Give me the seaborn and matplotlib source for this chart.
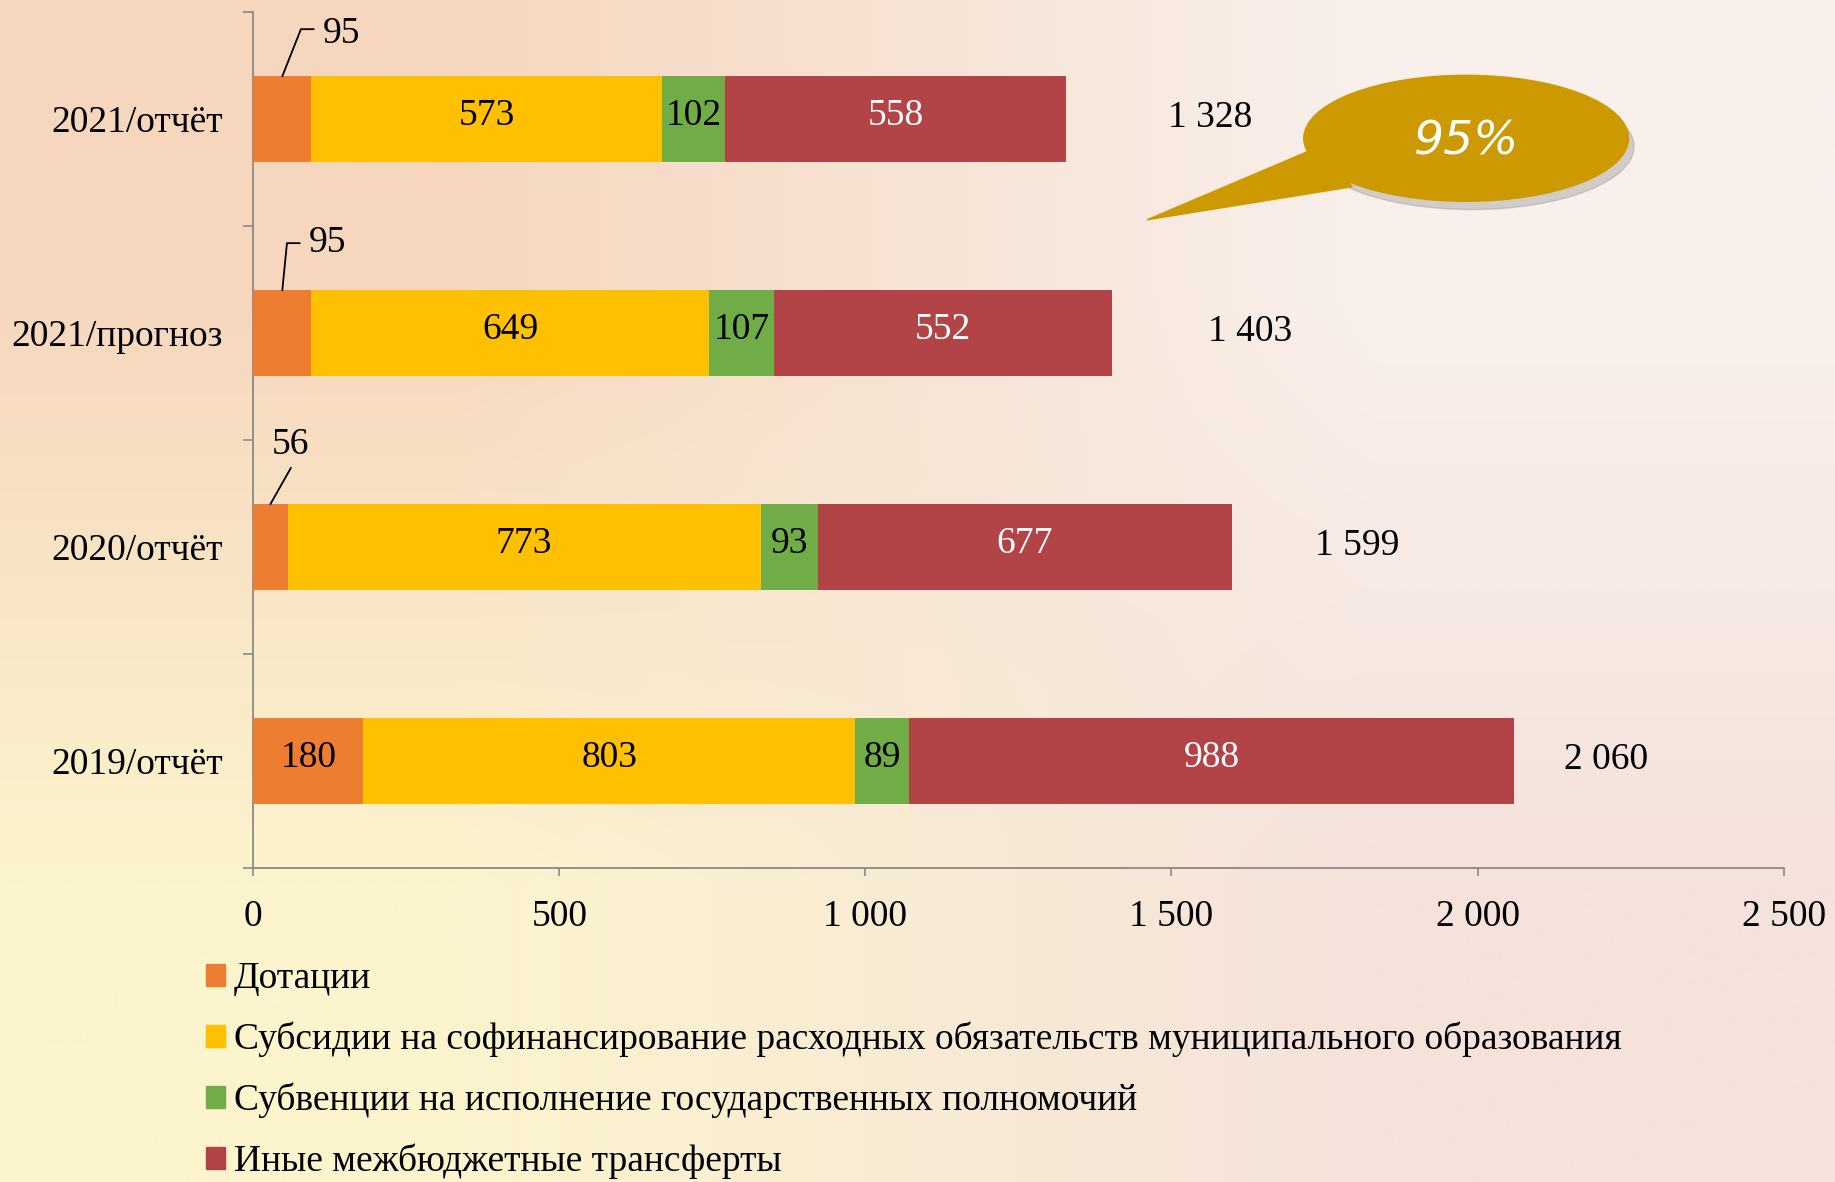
import numpy as np
import pandas as pd
import seaborn as sns
import matplotlib.pyplot as plt
from matplotlib.patches import Ellipse, Polygon, Patch
from matplotlib.ticker import FuncFormatter

categories = ["2021/отчёт", "2021/прогноз", "2020/отчёт", "2019/отчёт"]
series = ["Дотации",
          "Субсидии на софинансирование расходных обязательств муниципального образования",
          "Субвенции на исполнение государственных полномочий",
          "Иные межбюджетные трансферты"]
dotacii = [95, 95, 56, 180]
subsidii = [573, 649, 773, 803]
subvencii = [102, 107, 93, 89]
inye = [558, 552, 677, 988]
totals = [1328, 1403, 1599, 2060]
callout_text = "95%"

colors = ["#ED7D31", "#FFC000", "#70AD47", "#B24447"]
label_colors = ["black", "black", "black", "white"]

sns.set_theme(style="white")
plt.rcParams["font.family"] = ["Liberation Serif", "DejaVu Serif"]
plt.rcParams["text.color"] = "black"

df = pd.DataFrame({"cat": categories, series[0]: dotacii, series[1]: subsidii,
                   series[2]: subvencii, series[3]: inye})
cum = df[series].cumsum(axis=1)

fig = plt.figure(figsize=(18.35, 11.82), dpi=100)

# background gradient
bg = fig.add_axes([0, 0, 1, 1], zorder=-10)
corners = np.array([[[246, 215, 190], [249, 240, 236]],
                    [[252, 244, 205], [245, 226, 219]]]) / 255.0
bg.imshow(corners, aspect="auto", interpolation="bilinear", extent=[0, 1, 0, 1])
bg.axis("off")

ax = fig.add_axes([0.138, 0.2657, 0.834, 0.7241])
ax.patch.set_alpha(0)

# stacked bars: draw cumulative sums from the longest down
for k in range(3, -1, -1):
    sns.barplot(x=cum[series[k]].values, y=df["cat"], color=colors[k],
                orient="h", width=0.4, saturation=1, linewidth=0, ax=ax,
                zorder=2 + (3 - k))

vals = [dotacii, subsidii, subvencii, inye]
for i in range(len(categories)):
    for k in range(4):
        v = vals[k][i]
        if k == 0 and v < 150:
            continue
        xc = cum[series[k]].iloc[i] - v / 2
        ax.text(xc, i - 0.015, str(v), ha="center", va="center", fontsize=27,
                color=label_colors[k], zorder=10)
    xt = totals[i] + 100 + 0.115 * (2500 - totals[i])
    ax.text(xt, i - 0.005, f"{totals[i]:,}".replace(",", " "),
            ha="center", va="center", fontsize=27, color="black")

# leader lines for small first-segment values
for i in range(3):
    v = dotacii[i]
    if i == 0:
        ax.plot([v * 0.5, v * 0.82, v * 1.04], [i - 0.2, i - 0.42, i - 0.42],
                color="black", lw=1.3, zorder=10)
        ax.text(v * 1.2, i - 0.40, str(v), ha="left", va="center", fontsize=27)
    elif i == 1:
        ax.plot([v * 0.5, v * 0.58, v * 0.8], [i - 0.2, i - 0.42, i - 0.42],
                color="black", lw=1.3, zorder=10)
        ax.text(v * 0.95, i - 0.42, str(v), ha="left", va="center", fontsize=27)
    else:
        ax.plot([v * 0.5, v * 1.1], [i - 0.2, i - 0.37], color="black", lw=1.3, zorder=10)
        ax.text(v * 1.1, i - 0.48, str(v), ha="center", va="center", fontsize=27)

ax.set_xlim(0, 2500)
ax.set_ylim(3.5, -0.5)
ax.set_xticks([0, 500, 1000, 1500, 2000, 2500])
ax.xaxis.set_major_formatter(FuncFormatter(lambda x, p: f"{int(x):,}".replace(",", " ")))
ax.set_yticks([-0.5, 0.5, 1.5, 2.5, 3.5])
ax.set_yticklabels([])
ax.set_yticks(range(len(categories)), minor=True)
ax.set_yticklabels(categories, minor=True)
ax.tick_params(axis="y", which="minor", length=0, pad=22, labelsize=27, labelcolor="black")
ax.tick_params(axis="y", which="major", length=7, width=1.2, color="#898989", direction="out", left=True)
ax.tick_params(axis="x", length=6, width=1.2, color="#898989", direction="out", bottom=True,
               pad=17, labelsize=27, labelcolor="black")
ax.set_xlabel("")
ax.set_ylabel("")
for s in ["top", "right"]:
    ax.spines[s].set_visible(False)
for s in ["left", "bottom"]:
    ax.spines[s].set_color("#898989")
    ax.spines[s].set_linewidth(1.3)

# callout bubble
cx, cy, w, h = 0.799, 0.883, 0.177, 0.1066
shadow = Ellipse((cx + 0.003, cy - 0.007), w, h, transform=fig.transFigure,
                 color="#8a8a8a", alpha=0.35, zorder=20)
fig.patches.append(shadow)
tail = Polygon([(0.7190, 0.876), (0.625, 0.814), (0.7368, 0.842)], closed=True,
               transform=fig.transFigure, color="#CC9900", zorder=21)
fig.patches.append(tail)
bubble = Ellipse((cx, cy), w, h, transform=fig.transFigure, color="#CC9900", zorder=22)
fig.patches.append(bubble)
fig.text(cx, cy - 0.003, callout_text, ha="center", va="center", fontsize=34,
         color="white", family="DejaVu Sans", style="italic", zorder=23)

handles = [Patch(color=c) for c in colors]
fig.legend(handles, series, loc="upper left", bbox_to_anchor=(0.104, 0.199),
           frameon=False, fontsize=27, handlelength=0.5, handleheight=0.5,
           handletextpad=0.25, labelspacing=0.68, borderaxespad=0)

fig.savefig("out.png", dpi=100)
